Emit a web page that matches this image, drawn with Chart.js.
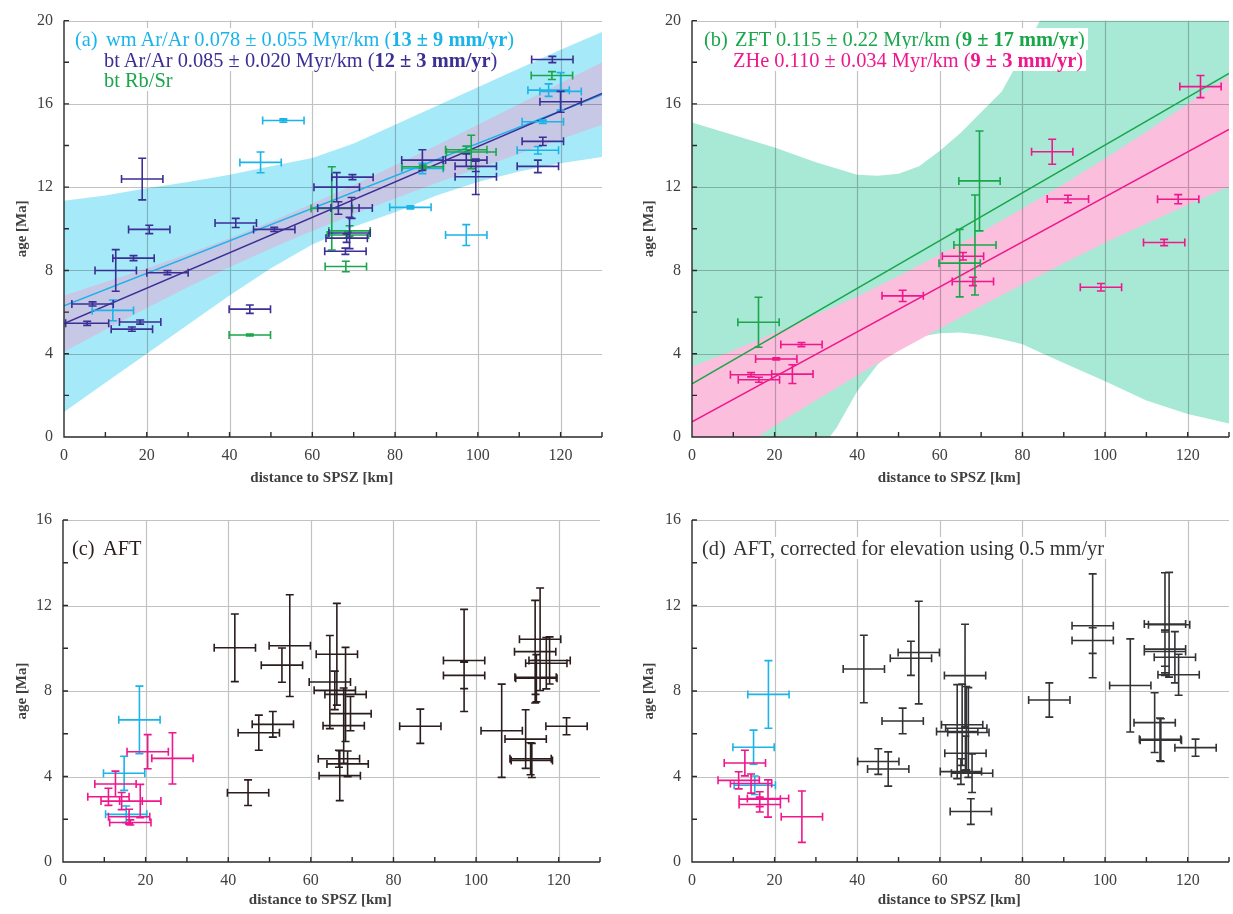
<!DOCTYPE html>
<html>
<head>
<meta charset="utf-8">
<script src="https://cdn.jsdelivr.net/npm/chart.js@4.4.0/dist/chart.umd.min.js"></script>
<style>
  body { margin: 0; background: #fff; width: 1233px; height: 914px; position: relative; overflow: hidden; }
  canvas { position: absolute; }
  .note { position: absolute; font-family: "Liberation Serif", serif; font-size: 20.4px; line-height: 21px; white-space: nowrap; }
  .note span.bg { background: #fff; padding: 0 3px 0 2px; }
  .note .tag { display: inline-block; width: 31px; }
</style>
</head>
<body>
<canvas id="pa" width="616" height="500" style="left:0;top:0"></canvas>
<canvas id="pb" width="617" height="500" style="left:616px;top:0"></canvas>
<canvas id="pc" width="616" height="454" style="left:0;top:460px"></canvas>
<canvas id="pd" width="617" height="454" style="left:616px;top:460px"></canvas>

<div class="note" style="left:73px;top:29px;color:#1ab4ea"><span class="bg"><span class="tag">(a)</span>wm Ar/Ar 0.078 ± 0.055 Myr/km (<b>13 ± 9 mm/yr</b>)</span></div>
<div class="note" style="left:102px;top:50px;color:#3b2f95"><span class="bg">bt Ar/Ar 0.085 ± 0.020 Myr/km (<b>12 ± 3 mm/yr</b>)</span></div>
<div class="note" style="left:102px;top:70px;color:#1aa64b"><span class="bg">bt Rb/Sr</span></div>

<div class="note" style="left:702px;top:29px;color:#1aa64b"><span class="bg"><span class="tag">(b)</span>ZFT 0.115 ± 0.22 Myr/km (<b>9 ± 17 mm/yr</b>)</span></div>
<div class="note" style="left:731px;top:50px;color:#f0168c"><span class="bg">ZHe 0.110 ± 0.034 Myr/km (<b>9 ± 3 mm/yr</b>)</span></div>

<div class="note" style="left:70px;top:538px;color:#2b1d1d"><span class="bg"><span class="tag">(c)</span>AFT</span></div>
<div class="note" style="left:700px;top:538px;color:#333336"><span class="bg"><span class="tag">(d)</span>AFT, corrected for elevation using 0.5 mm/yr</span></div>

<script>
// ---- panel (a): Ar/Ar and Rb/Sr ----
const wmDist    = [53, 47.5, 117.1, 120, 115.7, 114.5, 86.6, 83.7, 97.2, 11.8];
const wmAge     = [15.2, 13.19, 16.66, 16.6, 15.14, 13.77, 12.9, 11.03, 9.7, 6.08];
const wmDistErr = [5, 5, 5, 5, 5, 5, 5, 5, 5, 5];
const wmAgeErr  = [0.08, 0.5, 0.3, 0.9, 0.08, 0.18, 0.25, 0.08, 0.5, 0.5];

const btDist    = [118, 120, 115.7, 114.5, 86.6, 97.2, 99.5, 99.5, 65.9, 69.7, 66.3, 69.5, 69, 68.3, 68,
                   18.9, 20.6, 41.5, 50.8, 16.8, 12.5, 25, 6.9, 5.6, 18.4, 16.4, 44.9];
const btAge     = [18.13, 16.1, 14.2, 13.0, 13.3, 13.3, 13.0, 12.5, 12.0, 12.48, 11.0, 11.0, 9.8, 9.55, 8.92,
                   12.39, 9.97, 10.28, 9.97, 8.59, 8.0, 7.89, 6.39, 5.46, 5.52, 5.18, 6.14];
const btDistErr = [5, 5, 5, 5, 5, 5, 5, 5, 5.5, 5, 5, 5, 5, 5, 5,
                   5, 5, 5, 5, 5, 5, 5, 5, 5.2, 5, 5, 5];
const btAgeErr  = [0.15, 0.5, 0.2, 0.3, 0.5, 0.3, 0.25, 0.85, 0.7, 0.12, 0.3, 0.5, 0.75, 0.2, 0.15,
                   1.0, 0.2, 0.22, 0.1, 0.12, 1.0, 0.1, 0.1, 0.1, 0.1, 0.1, 0.2];

const rbDist    = [117.9, 98.4, 97.2, 86.7, 64.7, 69.0, 68.6, 68.1, 44.9];
const rbAge     = [17.36, 13.69, 13.8, 12.98, 10.98, 9.9, 9.7, 8.19, 4.9];
const rbDistErr = [5, 6, 5, 5, 5, 5, 5, 5, 5];
const rbAgeErr  = [0.19, 0.8, 0.17, 0.08, 2.0, 0.25, 0.15, 0.25, 0.05];

const fitDist   = [0, 130];
const wmFit     = [6.3, 16.44];
const btFit     = [5.45, 16.5];

const bandDist    = [0, 10, 20, 30, 40, 50, 60, 70, 80, 90, 100, 110, 120, 130];
const wmBandUpper = [11.35, 11.6, 11.95, 12.25, 12.6, 13.0, 13.4, 14.1, 15.0, 15.9, 16.8, 17.7, 18.6, 19.45];
const wmBandLower = [1.2, 2.6, 4.0, 5.4, 6.8, 8.1, 9.25, 10.1, 10.8, 11.6, 12.25, 12.75, 13.15, 13.45];
const btBandUpper = [6.8, 7.45, 8.1, 8.8, 9.55, 10.35, 11.2, 12.1, 13.05, 14.0, 15.0, 16.0, 17.0, 18.0];
const btBandLower = [4.1, 5.15, 6.2, 7.2, 8.15, 9.05, 9.9, 10.7, 11.45, 12.2, 12.9, 13.6, 14.3, 15.0];

// ---- panel (b): ZFT and ZHe ----
const zftDist    = [16.1, 64.8, 68.5, 69.6];
const zftAge     = [5.51, 8.35, 9.22, 12.3];
const zftDistErr = [5, 5, 5.1, 5];
const zftAgeErr  = [1.2, 1.62, 2.4, 2.4];

const zheDist    = [14.3, 16.2, 20.4, 24.3, 26.5, 51, 65.6, 68, 87.2, 91, 99, 114.3, 117.7, 123.1];
const zheAge     = [2.99, 2.75, 3.75, 3.02, 4.44, 6.78, 8.68, 7.47, 13.7, 11.43, 7.19, 9.34, 11.42, 16.83];
const zheDistErr = [5, 5, 5, 5, 5, 5, 5, 5, 5, 5, 5, 5, 5, 5];
const zheAgeErr  = [0.1, 0.12, 0.05, 0.45, 0.1, 0.27, 0.18, 0.2, 0.6, 0.18, 0.18, 0.15, 0.22, 0.53];

const zftFit = [2.55, 17.47];
const zheFit = [0.73, 14.77];

const zftBandDist  = [0, 10, 20, 30, 35, 40, 45, 50, 55, 60, 65, 70, 75, 80, 85, 90, 100, 110, 120, 130];
const zftBandUpper = [15.1, 14.5, 13.9, 13.2, 12.9, 12.6, 12.55, 12.65, 13.0, 13.75, 14.6, 15.6, 16.6, 18.4, 20.3, 22, 25, 27.5, 30, 32];
const zftBandLower = [-12, -7, -3.5, -0.9, 0.45, 2.2, 3.5, 4.3, 4.8, 4.98, 5.02, 4.9, 4.7, 4.45, 4.0, 3.55, 2.68, 1.75, 1.1, 0.65];
const zheBandUpper = [3.38, 4.16, 4.99, 5.87, 6.75, 7.73, 8.76, 9.84, 10.97, 12.15, 13.38, 14.66, 15.99, 17.34];
const zheBandLower = [-2.17, -0.79, 0.54, 1.77, 2.95, 4.13, 5.21, 6.29, 7.32, 8.35, 9.33, 10.26, 11.14, 12.03];

// ---- panel (c): AFT ----
const aftDist    = [41.6, 54.9, 53, 47.4, 50.8, 44.8, 66.3, 64.6, 65.8, 68.4, 69.6, 67.95, 66.8, 68.9, 67.0,
                    86.5, 97.1, 97.1, 106.2, 112, 113.2, 113.5, 121.9, 115.5, 114.3, 117.8, 117.0, 114.4, 114.6];
const aftAge     = [10.02, 10.12, 9.21, 6.05, 6.44, 3.24, 9.72, 8.42, 8.03, 7.84, 6.94, 6.38, 4.83, 4.59, 4.04,
                    6.35, 9.43, 8.73, 6.14, 5.75, 4.83, 4.75, 6.35, 10.42, 9.84, 9.43, 9.3, 8.64, 8.6];
const aftAgeErr  = [1.58, 2.38, 0.8, 0.82, 0.6, 0.6, 2.38, 2.18, 0.9, 2.2, 0.8, 1.76, 0.4, 0.6, 1.17,
                    0.8, 2.39, 0.62, 2.18, 1.37, 0.75, 0.8, 0.4, 2.4, 2.4, 1.1, 1.2, 0.8, 1.1];
const aftCyanDist = [18.5, 14.8, 15.3];
const aftCyanAge  = [6.65, 4.15, 2.23];
const aftCyanErr  = [1.58, 0.8, 0.39];
const aftPinkDist = [20.5, 26.5, 12.7, 11.0, 14.2, 18.7, 16.0, 16.3];
const aftPinkAge  = [5.16, 4.85, 3.65, 3.05, 2.85, 2.85, 2.12, 1.85];
const aftPinkErr  = [0.8, 1.2, 0.6, 0.4, 0.4, 0.78, 0.35, 0.12];

// ---- panel (d): AFT corrected ----
const corDist    = [41.6, 53, 54.9, 45.1, 47.5, 51, 66.1, 65.4, 66.4, 64.2, 66.9, 66.2, 65.1, 67.8, 67.5,
                    86.5, 97, 97, 106.1, 112, 113.3, 113.5, 121.9, 114.5, 115.5, 114.5, 114.5, 116.9, 117.8];
const corAge     = [9.03, 9.53, 9.8, 4.7, 4.35, 6.6, 8.72, 6.42, 6.26, 6.1, 6.06, 5.09, 4.23, 4.15, 2.36,
                    7.58, 11.05, 10.36, 8.26, 6.52, 5.74, 5.7, 5.35, 11.13, 11.1, 9.96, 9.85, 9.58, 8.76];
const corAgeErr  = [1.58, 0.8, 2.4, 0.6, 0.8, 0.6, 2.4, 1.9, 1.95, 2.2, 2.1, 0.8, 0.6, 0.9, 0.6,
                    0.8, 2.43, 0.6, 2.18, 1.4, 1.0, 1.0, 0.4, 2.4, 2.45, 0.8, 1.0, 1.2, 0.96];
const corCyanDist = [18.5, 14.9, 15.2];
const corCyanAge  = [7.84, 5.37, 3.59];
const corCyanErr  = [1.58, 0.8, 0.43];
const corPinkDist = [12.8, 11.3, 14.3, 18.4, 16.4, 16.4, 26.6];
const corPinkAge  = [4.63, 3.82, 3.67, 2.97, 2.94, 2.69, 2.12];
const corPinkErr  = [0.6, 0.4, 0.45, 0.87, 0.35, 0.35, 1.2];

const AFT_DIST_ERR = 5;   // every AFT cross has +-5 km

// colours
const LBLUE = '#1ab4ea', DBLUE = '#3b2f95', GREEN = '#1aa64b', PINK = '#f0168c';
const FONT = 'Liberation Serif';
const TXT = '#404040';

function pts(xs, ys) { return xs.map((x, i) => ({x: x, y: ys[i]})); }
function fill(arr, v) { return arr.map(() => v); }

function errSet(xs, ys, xe, ye, color, order) {
  return { data: pts(xs, ys), errX: xe, errY: ye, borderColor: color, showLine: false,
           pointRadius: 0, pointHoverRadius: 0, order: order };
}
function lineSet(ys, color, order) {
  return { data: pts(fitDist, ys), borderColor: color, borderWidth: 1.5, pointRadius: 0,
           fill: false, order: order };
}
function bandSet(xs, ys, color, order, extra) {
  return Object.assign({ data: pts(xs, ys), borderWidth: 0, borderColor: 'rgba(0,0,0,0)',
           backgroundColor: color, pointRadius: 0, fill: color ? '+1' : false, order: order }, extra || {});
}

// grid, axes, inward ticks, error crosses
function drawGrid(chart) {
  const {ctx, chartArea: a, scales: {x, y}} = chart;
  ctx.save();
  ctx.strokeStyle = 'rgba(0,0,0,0.24)';
  ctx.lineWidth = 1.2;
  ctx.beginPath();
  x.ticks.forEach(t => { if (t.value > x.min) { const px = Math.round(x.getPixelForValue(t.value)) + 0.5; ctx.moveTo(px, a.top); ctx.lineTo(px, a.bottom); } });
  y.ticks.forEach(t => { if (t.value > y.min) { const py = Math.round(y.getPixelForValue(t.value)) + 0.5; ctx.moveTo(a.left, py); ctx.lineTo(a.right, py); } });
  ctx.stroke();
  ctx.restore();
}
function drawAxes(chart) {
  const {ctx, chartArea: a, scales: {x, y}} = chart;
  ctx.save();
  ctx.strokeStyle = '#2a2a2a';
  ctx.lineWidth = 1.4;
  ctx.beginPath();
  ctx.moveTo(a.left, a.top); ctx.lineTo(a.left, a.bottom); ctx.lineTo(a.right, a.bottom);
  for (let v = x.min; v <= x.max; v += 10) {
    const px = x.getPixelForValue(v);
    ctx.moveTo(px, a.bottom); ctx.lineTo(px, a.bottom - 5);
  }
  for (let v = y.min; v <= y.max; v += 2) {
    const py = y.getPixelForValue(v);
    ctx.moveTo(a.left, py); ctx.lineTo(a.left + 5, py);
  }
  ctx.stroke();
  ctx.restore();
}
function drawErrors(chart, ds) {
  const {ctx, scales: {x, y}} = chart;
  const cap = 4;
  ctx.save();
  ctx.strokeStyle = ds.borderColor;
  ctx.lineWidth = 1.6;
  ctx.beginPath();
  ds.data.forEach((p, i) => {
    const cx = x.getPixelForValue(p.x), cy = y.getPixelForValue(p.y);
    const x0 = x.getPixelForValue(p.x - ds.errX[i]), x1 = x.getPixelForValue(p.x + ds.errX[i]);
    const y0 = y.getPixelForValue(p.y - ds.errY[i]), y1 = y.getPixelForValue(p.y + ds.errY[i]);
    ctx.moveTo(x0, cy); ctx.lineTo(x1, cy);
    ctx.moveTo(x0, cy - cap); ctx.lineTo(x0, cy + cap);
    ctx.moveTo(x1, cy - cap); ctx.lineTo(x1, cy + cap);
    ctx.moveTo(cx, y0); ctx.lineTo(cx, y1);
    ctx.moveTo(cx - cap, y0); ctx.lineTo(cx + cap, y0);
    ctx.moveTo(cx - cap, y1); ctx.lineTo(cx + cap, y1);
  });
  ctx.stroke();
  ctx.restore();
}
const framePlugin = {
  id: 'frame',
  beforeDatasetsDraw(chart) {
    if (!chart.data.datasets.some(d => d.gridAfter)) drawGrid(chart);
  },
  afterDatasetDraw(chart, args) {
    const ds = chart.data.datasets[args.index];
    if (ds.gridAfter) drawGrid(chart);
    if (ds.errX) drawErrors(chart, ds);
  },
  afterDraw(chart) { drawAxes(chart); }
};

function makeChart(id, datasets, yMax, box) {
  return new Chart(document.getElementById(id), {
    type: 'line',
    data: { datasets: datasets },
    plugins: [framePlugin],
    options: {
      responsive: false,
      animation: false,
      events: [],
      layout: { padding: { left: 0, right: box.right, top: box.top, bottom: 0 } },
      plugins: { legend: { display: false }, tooltip: { enabled: false } },
      scales: {
        x: {
          type: 'linear', min: 0, max: 130,
          ticks: { stepSize: 20, includeBounds: false, padding: 9, maxRotation: 0, color: TXT,
                   font: { family: FONT, size: 16 } },
          grid: { display: false, drawTicks: false },
          border: { display: false },
          // the original label sits about 10px left of the axis centre
          title: { display: true, text: 'distance to SPSZ [km]\u2003\u2002', color: TXT,
                   font: { family: FONT, size: 15, weight: 'bold' }, padding: { top: 0, bottom: box.xTitle } },
          afterFit: s => { s.height = box.xH; }
        },
        y: {
          type: 'linear', min: 0, max: yMax,
          ticks: { stepSize: 4, includeBounds: false, padding: 11, color: TXT,
                   font: { family: FONT, size: 16 } },
          grid: { display: false, drawTicks: false },
          border: { display: false },
          title: { display: true, text: 'age [Ma]', color: TXT,
                   font: { family: FONT, size: 15, weight: 'bold' }, padding: { top: box.yTitle, bottom: 0 } },
          afterFit: s => { s.width = box.yW; }
        }
      }
    }
  });
}

makeChart('pa', [
  bandSet(bandDist, wmBandUpper, '#a6eaf9', 9),
  bandSet(bandDist, wmBandLower, null, 8),
  bandSet(bandDist, btBandUpper, '#c7c8e5', 7),
  bandSet(bandDist, btBandLower, null, 6, { gridAfter: true }),
  lineSet(wmFit, LBLUE, 4),
  lineSet(btFit, DBLUE, 3),
  errSet(wmDist, wmAge, wmDistErr, wmAgeErr, LBLUE, 2.5),
  errSet(rbDist, rbAge, rbDistErr, rbAgeErr, GREEN, 2),
  errSet(btDist, btAge, btDistErr, btAgeErr, DBLUE, 1)
], 20, { right: 14, top: 10, xH: 63, yW: 64, xTitle: 13, yTitle: 13 });

makeChart('pb', [
  bandSet(zftBandDist, zftBandUpper, '#a8e9d5', 9),
  bandSet(zftBandDist, zftBandLower, null, 8),
  bandSet(bandDist, zheBandUpper, '#fbbedd', 7),
  bandSet(bandDist, zheBandLower, null, 6, { gridAfter: true }),
  lineSet(zftFit, GREEN, 4),
  lineSet(zheFit, PINK, 3),
  errSet(zftDist, zftAge, zftDistErr, zftAgeErr, GREEN, 2),
  errSet(zheDist, zheAge, zheDistErr, zheAgeErr, PINK, 1)
], 20, { right: 4, top: 10, xH: 63, yW: 76, xTitle: 13, yTitle: 24 });

makeChart('pc', [
  errSet(aftDist, aftAge, fill(aftDist, AFT_DIST_ERR), aftAgeErr, '#2b1d1d', 3),
  errSet(aftCyanDist, aftCyanAge, fill(aftCyanDist, AFT_DIST_ERR), aftCyanErr, LBLUE, 2),
  errSet(aftPinkDist, aftPinkAge, fill(aftPinkDist, AFT_DIST_ERR), aftPinkErr, PINK, 1)
], 16, { right: 16, top: 60, xH: 52, yW: 63, xTitle: 5, yTitle: 13 });

makeChart('pd', [
  errSet(corDist, corAge, fill(corDist, AFT_DIST_ERR), corAgeErr, '#333336', 3),
  errSet(corCyanDist, corCyanAge, fill(corCyanDist, AFT_DIST_ERR), corCyanErr, LBLUE, 2),
  errSet(corPinkDist, corPinkAge, fill(corPinkDist, AFT_DIST_ERR), corPinkErr, PINK, 1)
], 16, { right: 4, top: 60, xH: 52, yW: 76, xTitle: 5, yTitle: 24 });
</script>
</body>
</html>
